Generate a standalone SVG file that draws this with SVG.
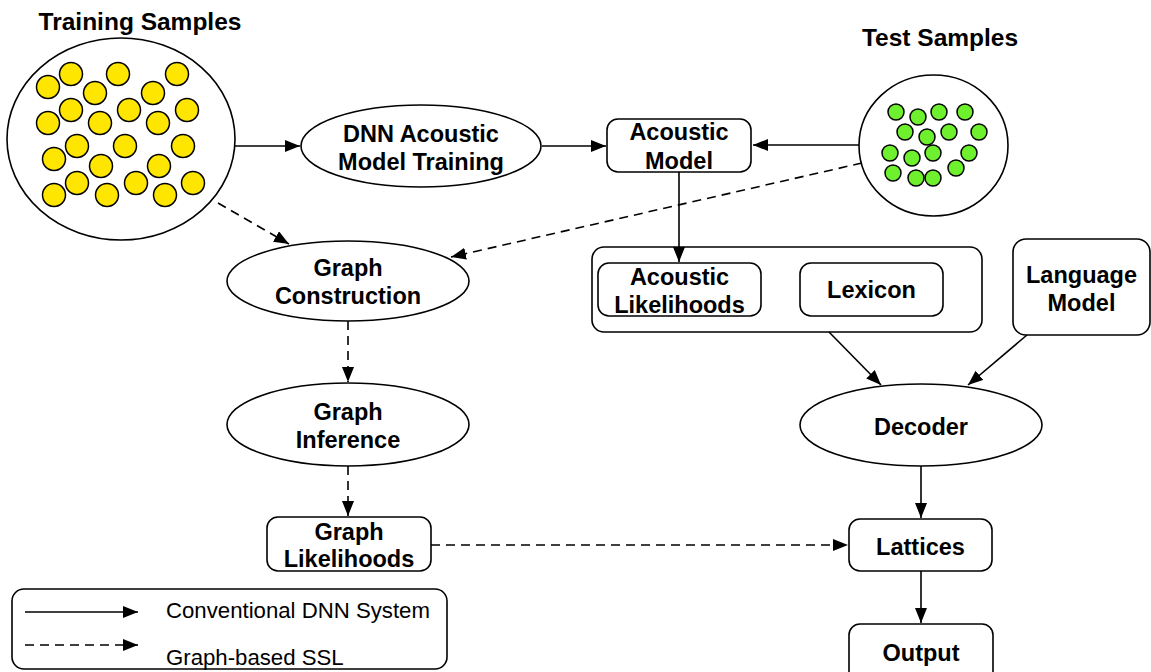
<svg xmlns="http://www.w3.org/2000/svg" width="1151" height="672" viewBox="0 0 1151 672">
<style>
.bg{fill:#ffffff}
.node{fill:#ffffff;stroke:#000;stroke-width:1.6}
.t{font-family:"Liberation Sans",Arial,sans-serif;font-weight:bold;font-size:23.5px;fill:#000;text-anchor:middle}
.title{font-family:"Liberation Sans",Arial,sans-serif;font-weight:bold;font-size:24.5px;fill:#000;text-anchor:middle}
.leg{font-family:"Liberation Sans",Arial,sans-serif;font-size:22.2px;fill:#000}
.y{fill:#FFE600;stroke:#000;stroke-width:1.5}
.g{fill:#6EF02E;stroke:#000;stroke-width:1.5}
.c{fill:none;stroke:#000;stroke-width:1.6;marker-end:url(#ah)}
.d{fill:none;stroke:#000;stroke-width:1.6;stroke-dasharray:9 6;marker-end:url(#ah)}
</style>
<defs>
<marker id="ah" markerUnits="userSpaceOnUse" markerWidth="16" markerHeight="12" refX="15" refY="6" orient="auto">
<path d="M0,0 L15,6 L0,12 Z" fill="#000"/>
</marker>
</defs>
<rect class="bg" x="0" y="0" width="1151" height="672"/>

<g id="training-samples">
<text class="title" x="140" y="30">Training Samples</text>
<ellipse class="node" cx="121" cy="139" rx="114" ry="101"/>
<circle class="y" cx="48" cy="87" r="11.5"/>
<circle class="y" cx="71" cy="74" r="11.5"/>
<circle class="y" cx="118" cy="74" r="11.5"/>
<circle class="y" cx="177" cy="74" r="11.5"/>
<circle class="y" cx="95" cy="93" r="11.5"/>
<circle class="y" cx="153" cy="93" r="11.5"/>
<circle class="y" cx="71" cy="110" r="11.5"/>
<circle class="y" cx="129" cy="110" r="11.5"/>
<circle class="y" cx="187" cy="110" r="11.5"/>
<circle class="y" cx="48" cy="123" r="11.5"/>
<circle class="y" cx="100" cy="123" r="11.5"/>
<circle class="y" cx="158" cy="123" r="11.5"/>
<circle class="y" cx="77" cy="146" r="11.5"/>
<circle class="y" cx="125" cy="146" r="11.5"/>
<circle class="y" cx="183" cy="146" r="11.5"/>
<circle class="y" cx="54" cy="159" r="11.5"/>
<circle class="y" cx="101" cy="166" r="11.5"/>
<circle class="y" cx="159" cy="166" r="11.5"/>
<circle class="y" cx="77" cy="183" r="11.5"/>
<circle class="y" cx="136" cy="183" r="11.5"/>
<circle class="y" cx="193" cy="183" r="11.5"/>
<circle class="y" cx="54" cy="195" r="11.5"/>
<circle class="y" cx="107" cy="195" r="11.5"/>
<circle class="y" cx="165" cy="195" r="11.5"/>
</g>

<g id="test-samples">
<text class="title" x="940" y="46">Test Samples</text>
<ellipse class="node" cx="933.5" cy="145.5" rx="74.5" ry="70.5"/>
<circle class="g" cx="896" cy="112" r="8"/>
<circle class="g" cx="918" cy="117" r="8"/>
<circle class="g" cx="939" cy="112" r="8"/>
<circle class="g" cx="965" cy="112" r="8"/>
<circle class="g" cx="905" cy="132" r="8"/>
<circle class="g" cx="927" cy="137" r="8"/>
<circle class="g" cx="949" cy="132" r="8"/>
<circle class="g" cx="979" cy="132" r="8"/>
<circle class="g" cx="890" cy="153" r="8"/>
<circle class="g" cx="912" cy="158" r="8"/>
<circle class="g" cx="933" cy="153" r="8"/>
<circle class="g" cx="969" cy="153" r="8"/>
<circle class="g" cx="893" cy="173" r="8"/>
<circle class="g" cx="916" cy="178" r="8"/>
<circle class="g" cx="933" cy="178" r="8"/>
<circle class="g" cx="956" cy="168" r="8"/>
</g>

<g id="dnn-training">
<ellipse class="node" cx="421" cy="146" rx="120" ry="41"/>
<text class="t" x="421" y="142">DNN Acoustic</text>
<text class="t" x="421" y="170">Model Training</text>
</g>

<g id="acoustic-model">
<rect class="node" x="607" y="119" width="144" height="53" rx="11"/>
<text class="t" x="679" y="140">Acoustic</text>
<text class="t" x="679" y="169">Model</text>
</g>

<g id="graph-construction">
<ellipse class="node" cx="348" cy="281" rx="121" ry="40"/>
<text class="t" x="348" y="276">Graph</text>
<text class="t" x="348" y="304">Construction</text>
</g>

<g id="graph-inference">
<ellipse class="node" cx="348" cy="424.5" rx="121" ry="41.5"/>
<text class="t" x="348" y="420">Graph</text>
<text class="t" x="348" y="448">Inference</text>
</g>

<g id="graph-likelihoods">
<rect class="node" x="267" y="517" width="164" height="54" rx="11"/>
<text class="t" x="349" y="540">Graph</text>
<text class="t" x="349" y="567">Likelihoods</text>
</g>

<g id="decoder-inputs">
<rect class="node" x="592" y="247" width="390" height="85" rx="12"/>
</g>

<g id="acoustic-likelihoods">
<rect class="node" x="598" y="263" width="163" height="53" rx="11"/>
<text class="t" x="679.5" y="285">Acoustic</text>
<text class="t" x="679.5" y="313">Likelihoods</text>
</g>

<g id="lexicon">
<rect class="node" x="800" y="263" width="143" height="53" rx="11"/>
<text class="t" x="871.5" y="298">Lexicon</text>
</g>

<g id="language-model">
<rect class="node" x="1013" y="239" width="137" height="96" rx="13"/>
<text class="t" x="1081.5" y="283">Language</text>
<text class="t" x="1081.5" y="311">Model</text>
</g>

<g id="decoder">
<ellipse class="node" cx="921" cy="425" rx="121" ry="41"/>
<text class="t" x="921" y="435">Decoder</text>
</g>

<g id="lattices">
<rect class="node" x="849" y="519" width="143" height="52" rx="11"/>
<text class="t" x="920.5" y="555">Lattices</text>
</g>

<g id="output">
<rect class="node" x="849" y="624" width="144" height="60" rx="11"/>
<text class="t" x="921" y="661">Output</text>
</g>

<g id="connectors">
<line class="c" x1="235" y1="146" x2="300" y2="146"/>
<line class="c" x1="542" y1="146" x2="606" y2="146"/>
<line class="c" x1="859" y1="145" x2="753" y2="145"/>
<line class="c" x1="679" y1="172" x2="679" y2="262"/>
<line class="d" x1="218" y1="203" x2="289" y2="244"/>
<line class="d" x1="862" y1="163" x2="451" y2="257"/>
<line class="d" x1="348" y1="321" x2="348" y2="382"/>
<line class="d" x1="348" y1="466" x2="348" y2="516"/>
<line class="d" x1="431" y1="545" x2="848" y2="545"/>
<line class="c" x1="829" y1="332" x2="881" y2="385"/>
<line class="c" x1="1027" y1="335" x2="968" y2="385"/>
<line class="c" x1="921" y1="466" x2="921" y2="518"/>
<line class="c" x1="921" y1="571" x2="921" y2="623"/>
</g>

<g id="legend">
<rect class="node" x="12" y="589" width="435" height="80" rx="12"/>
<line class="c" x1="25" y1="612" x2="138" y2="612"/>
<line class="d" x1="25" y1="645" x2="138" y2="645"/>
<text class="leg" x="166" y="618">Conventional DNN System</text>
<text class="leg" x="166" y="665">Graph-based SSL</text>
</g>
</svg>
